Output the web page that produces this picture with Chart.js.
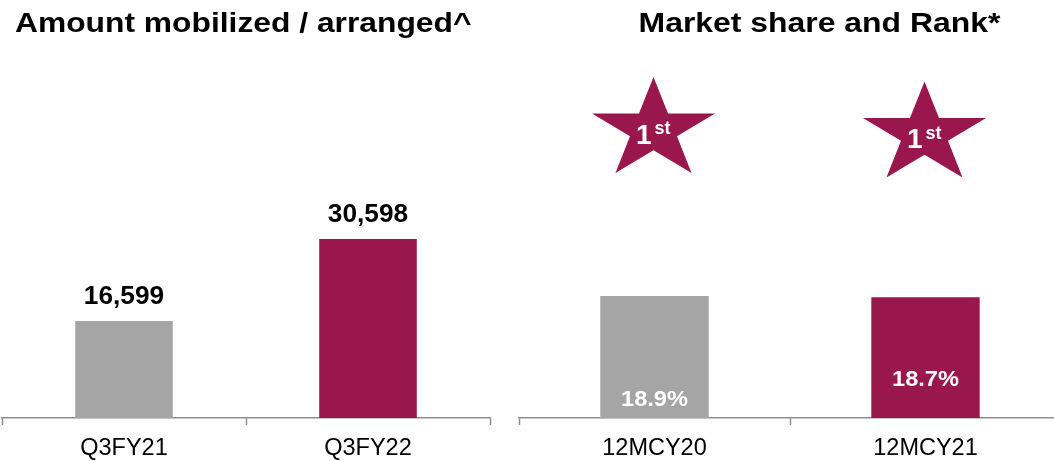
<!DOCTYPE html>
<html>
<head>
<meta charset="utf-8">
<script src="https://cdn.jsdelivr.net/npm/chart.js@4/dist/chart.umd.min.js"></script>
<style>
  html, body { margin: 0; padding: 0; background: #fff; overflow: hidden; width: 1054px; height: 461px; position: relative; }
  canvas { position: absolute; top: 0; }
  #amount { left: 0; width: 500px; height: 461px; }
  #share { left: 510px; width: 560px; height: 461px; }
</style>
</head>
<body>
<canvas id="amount" width="500" height="461"></canvas>
<canvas id="share" width="560" height="461"></canvas>
<script>
// Amount mobilized / arranged
const amountPeriods = ['Q3FY21', 'Q3FY22'];
const amountValues = [16599, 30598];

// Market share (%) and rank
const sharePeriods = ['12MCY20', '12MCY21'];
const shareValues = [18.9, 18.7];
const shareRanks = [1, 1];

const GREY = '#a5a5a5';
const MAROON = '#99174d';
const FONT = '"Liberation Sans", Arial, Helvetica, sans-serif';

function ordinalSuffix(n) {
  const t = n % 100;
  if (t >= 11 && t <= 13) return 'th';
  return ({1: 'st', 2: 'nd', 3: 'rd'})[n % 10] || 'th';
}

// Text with a slight horizontal stretch (wide bold display type)
function wideText(ctx, text, x, y, stretch) {
  ctx.save();
  ctx.translate(x, y);
  ctx.scale(stretch, 1);
  ctx.fillText(text, 0, 0);
  ctx.restore();
}

// Panel heading drawn at the top of each canvas
const headingPlugin = {
  id: 'heading',
  afterDraw(chart, args, opts) {
    const ctx = chart.ctx;
    ctx.save();
    ctx.font = 'bold ' + opts.size + 'px ' + FONT;
    ctx.fillStyle = '#000';
    ctx.textBaseline = 'alphabetic';
    ctx.textAlign = opts.align;
    wideText(ctx, opts.text, opts.x, opts.y, opts.stretch);
    ctx.restore();
  }
};

// Value labels: either above each bar or inside near its base
const valueLabelPlugin = {
  id: 'valueLabels',
  afterDatasetsDraw(chart, args, opts) {
    const ctx = chart.ctx;
    const meta = chart.getDatasetMeta(0);
    const values = chart.data.datasets[0].data;
    ctx.save();
    ctx.font = 'bold ' + opts.size + 'px ' + FONT;
    ctx.fillStyle = opts.color;
    ctx.textAlign = 'center';
    ctx.textBaseline = 'alphabetic';
    meta.data.forEach((bar, i) => {
      const text = opts.format(values[i]);
      const y = opts.inside ? bar.base - opts.lift[i] : bar.y - opts.gap;
      wideText(ctx, text, bar.x, y, opts.stretch);
    });
    ctx.restore();
  }
};

// Rank stars above the market-share bars
const rankStarPlugin = {
  id: 'rankStars',
  afterDatasetsDraw(chart, args, opts) {
    const ctx = chart.ctx;
    const meta = chart.getDatasetMeta(0);
    const area = chart.chartArea;
    ctx.save();
    meta.data.forEach((bar, i) => {
      const cx = bar.x - 1;
      const cy = area.top + opts.drop[i];
      const rx = opts.rx, ry = opts.ry, inner = 0.382;
      ctx.beginPath();
      for (let k = 0; k < 10; k++) {
        const a = -Math.PI / 2 + k * Math.PI / 5;
        const r = (k % 2 === 0) ? 1 : inner;
        const px = cx + Math.cos(a) * rx * r;
        const py = cy + Math.sin(a) * ry * r;
        if (k === 0) ctx.moveTo(px, py); else ctx.lineTo(px, py);
      }
      ctx.closePath();
      ctx.fillStyle = opts.color;
      ctx.fill();

      const rank = opts.ranks[i];
      ctx.fillStyle = '#fff';
      ctx.textBaseline = 'alphabetic';
      ctx.textAlign = 'left';
      ctx.font = 'bold 28px ' + FONT;
      ctx.fillText(String(rank), cx - 17.5, cy + 13.5);
      ctx.font = 'bold 18px ' + FONT;
      ctx.fillText(ordinalSuffix(rank), cx + 1, cy + 4);
    });
    ctx.restore();
  }
};

function xAxis() {
  return {
    offset: true,
    grid: {
      offset: true,
      drawOnChartArea: false,
      drawTicks: true,
      tickLength: 7,
      tickColor: '#8c8c8c',
      tickWidth: 1.5
    },
    border: { display: true, color: '#8c8c8c', width: 1.5 },
    ticks: {
      color: '#000',
      padding: 9,
      font: { family: FONT, size: 23.5 }
    },
    afterFit(scale) { scale.height = 43; }
  };
}

new Chart(document.getElementById('amount'), {
  type: 'bar',
  data: {
    labels: amountPeriods,
    datasets: [{
      data: amountValues,
      backgroundColor: [GREY, MAROON],
      borderWidth: 0,
      categoryPercentage: 1,
      barPercentage: 0.4
    }]
  },
  options: {
    responsive: false,
    animation: false,
    layout: { padding: { top: 63, left: 2, right: 10, bottom: 0 } },
    scales: {
      x: xAxis(),
      y: { display: false, min: 0, max: 60700 }
    },
    plugins: {
      legend: { display: false },
      tooltip: { enabled: false },
      heading: { text: 'Amount mobilized / arranged^', x: 15, y: 32, align: 'left', size: 28, stretch: 1.135 },
      valueLabels: {
        inside: false, gap: 17, size: 25, stretch: 1.05, color: '#000',
        format: v => v.toLocaleString('en-US')
      }
    }
  },
  plugins: [headingPlugin, valueLabelPlugin]
});

new Chart(document.getElementById('share'), {
  type: 'bar',
  data: {
    labels: sharePeriods,
    datasets: [{
      data: shareValues,
      backgroundColor: [GREY, MAROON],
      borderWidth: 0,
      categoryPercentage: 1,
      barPercentage: 0.4
    }]
  },
  options: {
    responsive: false,
    animation: false,
    layout: { padding: { top: 63, left: 9, right: 9, bottom: 0 } },
    scales: {
      x: xAxis(),
      y: { display: false, min: 0, max: 55 }
    },
    plugins: {
      legend: { display: false },
      tooltip: { enabled: false },
      heading: { text: 'Market share and Rank*', x: 309.5, y: 32, align: 'center', size: 28, stretch: 1.14 },
      valueLabels: {
        inside: true, lift: [12, 32], size: 22.5, stretch: 1.05, color: '#fff',
        format: v => v.toFixed(1) + '%'
      },
      rankStars: { ranks: shareRanks, color: MAROON, rx: 64.7, ry: 53, drop: [67, 71.5] }
    }
  },
  plugins: [headingPlugin, valueLabelPlugin, rankStarPlugin]
});
</script>
</body>
</html>
